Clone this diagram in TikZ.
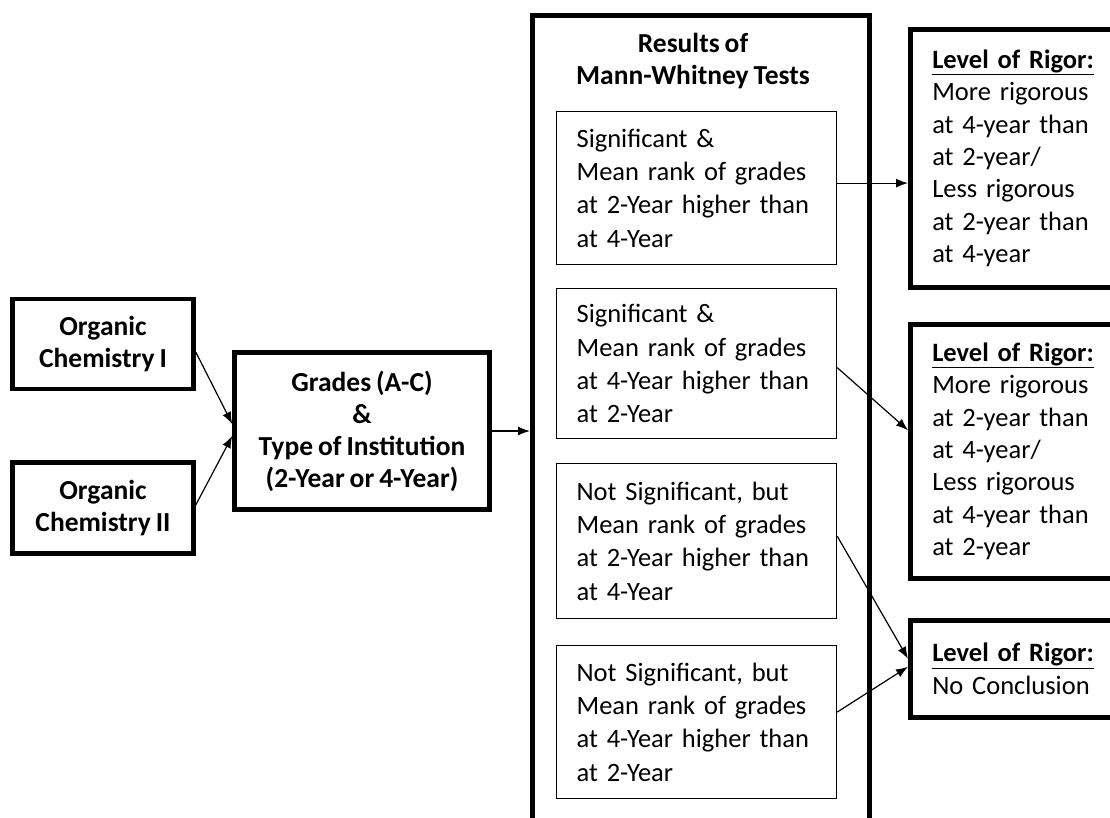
\documentclass[tikz,border=0pt]{standalone}
\usepackage{fontspec}
\setmainfont{Carlito}[WordSpace=0.8]
\usetikzlibrary{arrows.meta}

\newcommand\plainfont{\fontsize{26.5}{33.3}\selectfont}
\newcommand\rigorfont{\fontsize{26.5}{32.3}\selectfont}
\newcommand\boldfont{\fontsize{27.5}{32}\selectfont\bfseries}
\newcommand\rigorhead{\underline{\textbf{Level of Rigor:}}}

\begin{document}
\begin{tikzpicture}[x=1pt, y=-1pt,
		>={Latex[length=12pt,width=9pt]},
		heavybox/.style = {draw, line width=4.5pt, align=center, font=\boldfont, inner sep=0pt},
		testbox/.style = {draw, line width=1.2pt, anchor=north west, minimum width=280pt,
			text width=240pt, inner xsep=20pt, align=left, font=\plainfont},
		rigorbox/.style = {draw, line width=4.5pt, anchor=north west, minimum width=225pt,
			text width=181pt, inner xsep=22pt, align=left, font=\rigorfont},
		link/.style = {->, line width=1.2pt}
	]
	\useasboundingbox (0,0) rectangle (1110,817);
	\clip (0,0) rectangle (1110,817);

	% inputs
	\node[heavybox, minimum width=181pt, minimum height=90pt] (orgone) at (103,344) {Organic\\Chemistry I};
	\node[heavybox, minimum width=181pt, minimum height=91pt] (orgtwo) at (103,508) {Organic\\Chemistry II};
	\node[heavybox, minimum width=255pt, minimum height=157pt] (grades) at (362,431)
		{Grades (A-C)\\\&\\Type of Institution\\(2-Year or 4-Year)};

	% tests
	\node[draw, line width=4.5pt, anchor=north west, minimum width=337pt, minimum height=840pt] (tests) at (530,13) {};
	\node[font=\boldfont, align=center] (testtitle) at (693,61) {Results of\\Mann-Whitney Tests};
	\node[testbox, minimum height=153pt] (sigtwo) at (556,111)
		{Significant \&\\Mean rank of grades\\at 2-Year higher than\\at 4-Year};
	\node[testbox, minimum height=150pt] (sigfour) at (556,288)
		{Significant \&\\Mean rank of grades\\at 4-Year higher than\\at 2-Year};
	\node[testbox, minimum height=155pt] (nstwo) at (556,463)
		{Not Significant, but\\Mean rank of grades\\at 2-Year higher than\\at 4-Year};
	\node[testbox, minimum height=153pt] (nsfour) at (556,645)
		{Not Significant, but\\Mean rank of grades\\at 4-Year higher than\\at 2-Year};

	% conclusions
	\node[rigorbox, minimum height=258pt] (rigfour) at (908,27)
		{\rigorhead\\More rigorous\\at 4-year than\\at 2-year/\\Less rigorous\\at 2-year than\\at 4-year};
	\node[rigorbox, minimum height=254pt] (rigtwo) at (908,322)
		{\rigorhead\\More rigorous\\at 2-year than\\at 4-year/\\Less rigorous\\at 4-year than\\at 2-year};
	\node[rigorbox, minimum height=97pt] (rignone) at (908,618)
		{\rigorhead\\No Conclusion};

	% connectors
	\draw[link] ([yshift=-8pt]orgone.east) -- ([yshift=7pt]grades.west);
	\draw[link] ([yshift=3pt]orgtwo.east) -- ([yshift=-5pt]grades.west);
	\draw[link] (grades.east) -- (grades.east -| tests.west);
	\draw[link] ([yshift=5pt]sigtwo.east) -- ([yshift=5pt]sigtwo.east -| rigfour.west);
	\draw[link] ([yshift=-4pt]sigfour.east) -- ([yshift=21pt]rigtwo.west);
	\draw[link] ([yshift=5pt]nstwo.east) -- ([yshift=10pt]rignone.west);
	\draw[link] ([yshift=10pt]nsfour.east) -- ([yshift=2pt]rignone.west);
\end{tikzpicture}
\end{document}
